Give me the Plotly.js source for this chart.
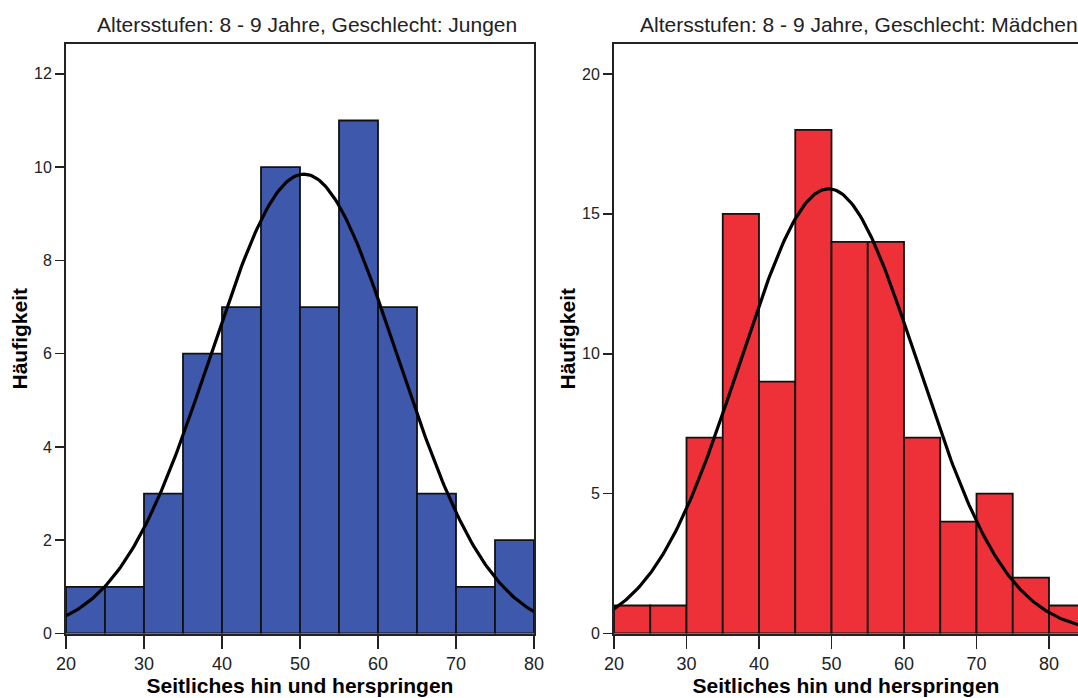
<!DOCTYPE html>
<html>
<head>
<meta charset="utf-8">
<script src="https://cdn.plot.ly/plotly-3.0.1.min.js"></script>
<style>html,body{margin:0;padding:0;background:#fff;overflow:hidden}#chart{width:1078px;height:698px}</style>
</head>
<body>
<div id="chart"></div>
<script>
// Bin lower edges (bin width 5)
const binStartsJungen = [20, 25, 30, 35, 40, 45, 50, 55, 60, 65, 70, 75];
const countsJungen    = [1, 1, 3, 6, 7, 10, 7, 11, 7, 3, 1, 2];
const binStartsMaedchen = [20, 25, 30, 35, 40, 45, 50, 55, 60, 65, 70, 75, 80];
const countsMaedchen    = [1, 1, 7, 15, 9, 18, 14, 14, 7, 4, 5, 2, 1];
const binWidth = 5;

// Fitted normal curve parameters
const fitJungen   = {mean: 50.5, sd: 11.95};
const fitMaedchen = {mean: 49.6, sd: 12.3};

const titleJungen   = "Altersstufen: 8 - 9 Jahre, Geschlecht: Jungen";
const titleMaedchen = "Altersstufen: 8 - 9 Jahre, Geschlecht: Mädchen";
const xTitle = "Seitliches hin und herspringen";
const yTitle = "Häufigkeit";

function normalCurve(counts, fit, x0, x1) {
  const n = counts.reduce((a, b) => a + b, 0);
  const xs = [], ys = [];
  for (let x = x0; x <= x1 + 1e-9; x += 0.25) {
    const z = (x - fit.mean) / fit.sd;
    xs.push(x);
    ys.push(n * binWidth * Math.exp(-0.5 * z * z) / (fit.sd * Math.sqrt(2 * Math.PI)));
  }
  return {xs, ys};
}

const blue = "rgb(62,88,171)";
const red  = "rgb(238,49,57)";
const dark = "#111";
const font = "Liberation Sans, Arial, sans-serif";

const cJ = normalCurve(countsJungen, fitJungen, 20, 80);
const cM = normalCurve(countsMaedchen, fitMaedchen, 20, 84);

const traces = [
  {type: "bar", x: binStartsJungen, y: countsJungen, width: binWidth, offset: 0,
   marker: {color: blue, line: {color: dark, width: 1.8}}, xaxis: "x", yaxis: "y", hoverinfo: "x+y"},
  {type: "scatter", mode: "lines", x: cJ.xs, y: cJ.ys, line: {color: "#000", width: 3.2},
   xaxis: "x", yaxis: "y", hoverinfo: "skip"},
  {type: "bar", x: binStartsMaedchen, y: countsMaedchen, width: binWidth, offset: 0,
   marker: {color: red, line: {color: dark, width: 1.8}}, xaxis: "x2", yaxis: "y2", hoverinfo: "x+y"},
  {type: "scatter", mode: "lines", x: cM.xs, y: cM.ys, line: {color: "#000", width: 3.2},
   xaxis: "x2", yaxis: "y2", hoverinfo: "skip"}
];

const W = 1078, H = 698;
const yDom = [1 - 633.5 / H, 1 - 44 / H];

const xCommon = {
  showline: true, linecolor: "#222", linewidth: 2, mirror: true,
  showgrid: false, zeroline: false, ticks: "outside", ticklen: 13, tickwidth: 1.6, tickcolor: "#222",
  tickvals: [20, 30, 40, 50, 60, 70, 80], tickfont: {family: font, size: 18, color: "#222"},
  title: {text: xTitle, font: {family: font, size: 21, color: "#000", weight: "bold"}, standoff: 4},
  automargin: false, fixedrange: true
};
const yCommon = {
  showline: true, linecolor: "#222", linewidth: 2,
  showgrid: false, zeroline: false, ticks: "outside", ticklen: 9, tickwidth: 1.6, tickcolor: "#222",
  tickfont: {family: font, size: 16, color: "#222"},
  title: {text: yTitle, font: {family: font, size: 21, color: "#000", weight: "bold"}, standoff: 1},
  automargin: false, fixedrange: true, domain: yDom
};

const layout = {
  width: W, height: H,
  margin: {l: 0, r: 0, t: 0, b: 0},
  paper_bgcolor: "#fff", plot_bgcolor: "#fff",
  showlegend: false, bargap: 0,
  xaxis:  Object.assign({}, xCommon, {domain: [66 / W, 534 / W], range: [20, 80], anchor: "y"}),
  yaxis:  Object.assign({}, yCommon, {range: [0, 12.64], tickvals: [0, 2, 4, 6, 8, 10, 12], mirror: true, anchor: "x"}),
  xaxis2: Object.assign({}, xCommon, {domain: [614 / W, 1], range: [20, 84], anchor: "y2"}),
  yaxis2: Object.assign({}, yCommon, {range: [0, 21.07], tickvals: [0, 5, 10, 15, 20], mirror: false, anchor: "x2"}),
  annotations: [
    {text: titleJungen, xref: "paper", yref: "paper", x: 307 / W, y: 1 - 24 / H, xanchor: "center", yanchor: "middle",
     showarrow: false, font: {family: font, size: 21, color: "#222"}},
    {text: titleMaedchen, xref: "paper", yref: "paper", x: 859 / W, y: 1 - 24 / H, xanchor: "center", yanchor: "middle",
     showarrow: false, font: {family: font, size: 21, color: "#222"}}
  ]
};

Plotly.newPlot("chart", traces, layout, {displayModeBar: false, staticPlot: true});
</script>
</body>
</html>
